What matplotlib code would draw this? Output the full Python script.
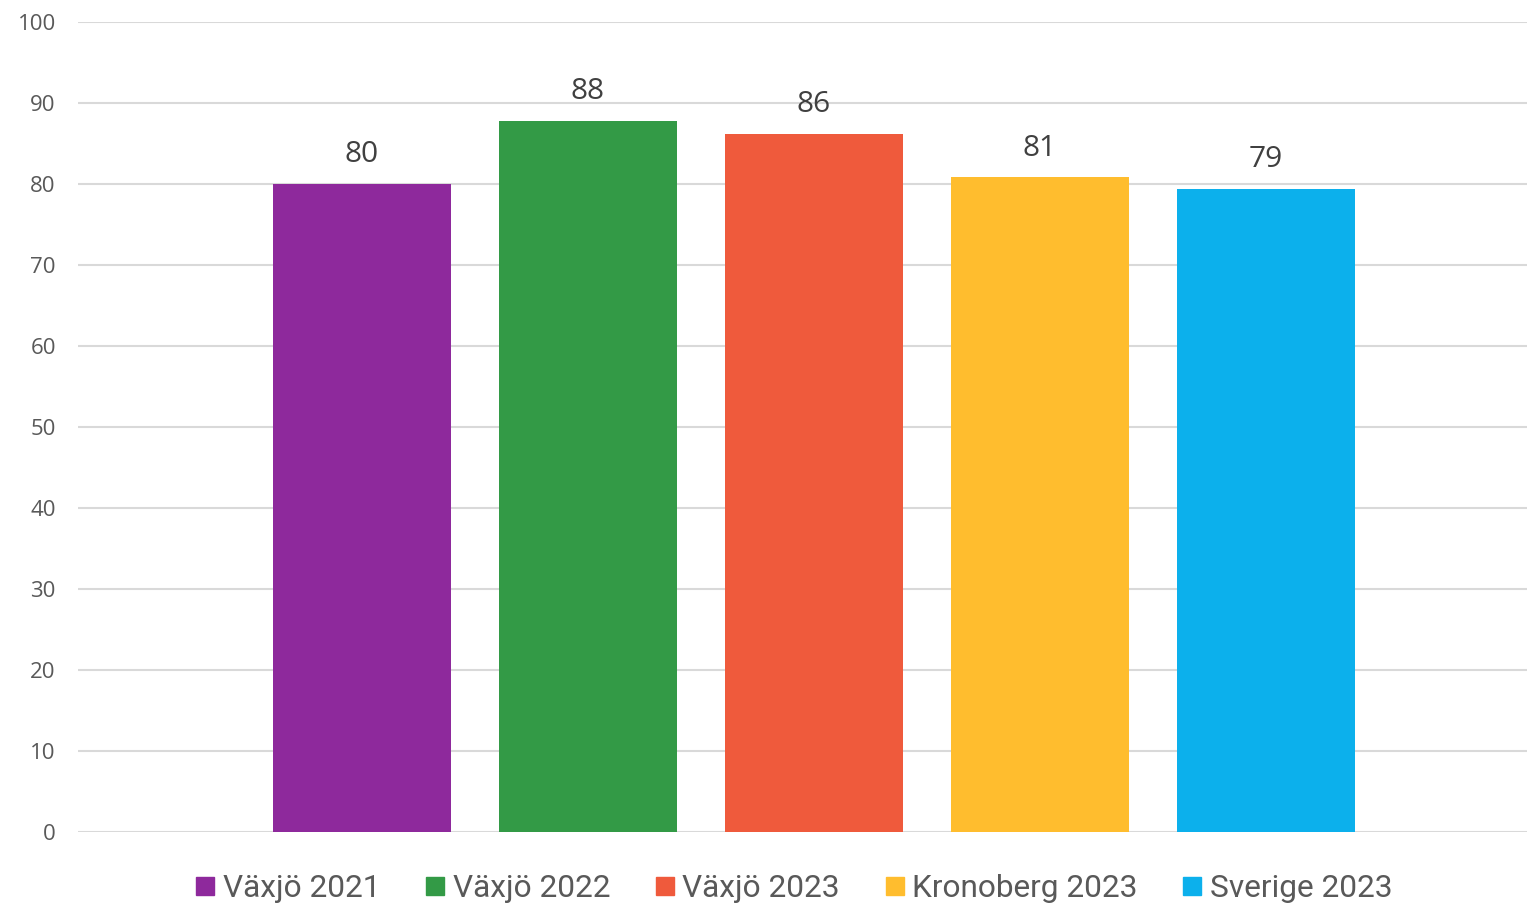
import matplotlib
matplotlib.use("Agg")
import matplotlib.pyplot as plt
from matplotlib.lines import Line2D

series = ["Växjö 2021", "Växjö 2022", "Växjö 2023", "Kronoberg 2023", "Sverige 2023"]
values = [80.0, 87.8, 86.2, 80.8, 79.4]
labels = ["80", "88", "86", "81", "79"]
colors = ["#8E299C", "#339A46", "#EF5A3C", "#FFBD2E", "#0CB0EC"]
yticks = [0, 10, 20, 30, 40, 50, 60, 70, 80, 90, 100]

W, H = 1527, 905
fig = plt.figure(figsize=(W / 100, H / 100), dpi=100)
ax = fig.add_axes([78 / W, (H - 831.5) / H, 1 - 78 / W, (831.5 - 22) / H])

xs = list(range(len(series)))
ax.bar(xs, values, width=178 / 226, color=colors, zorder=3)
for x, v, lab in zip(xs, values, labels):
    ax.annotate(lab, (x, v), xytext=(0, 21), textcoords="offset points",
                ha="center", va="center", fontsize=21.5, color="#404040",
                family="Open Sans")

ax.set_xlim((78 - 362) / 226, (1527 - 362) / 226)
ax.set_ylim(0, 100)
ax.set_yticks(yticks)
ax.set_yticklabels([str(t) for t in yticks], family="Open Sans", fontsize=16, color="#595959")
ax.set_xticks([])
ax.tick_params(axis="y", length=0, pad=16)
ax.grid(axis="y", color="#D9D9D9", linewidth=1.5, zorder=0)
for s in ax.spines.values():
    s.set_visible(False)

handles = [Line2D([], [], marker="s", linestyle="none", markersize=13, color=c) for c in colors]
fig.legend(handles, series, loc="center", bbox_to_anchor=(794 / W, 1 - 888.5 / H),
           ncol=5, frameon=False, prop={"family": "Roboto", "size": 22.8},
           labelcolor="#595959", handlelength=0.6, handletextpad=0.25,
           columnspacing=1.43, borderaxespad=0)

fig.savefig("out.png", dpi=100)
